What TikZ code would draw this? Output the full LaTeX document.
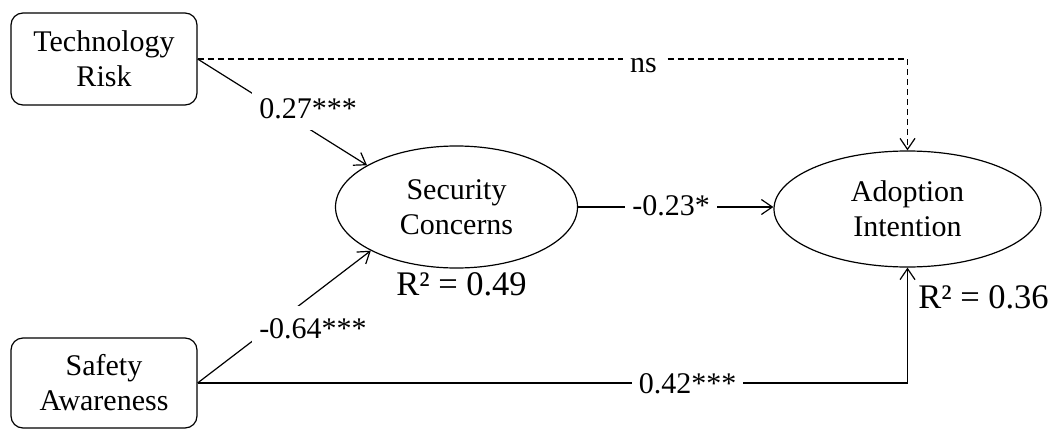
\documentclass[tikz,border=0pt]{standalone}
\usepackage{fontspec}
\setmainfont{Liberation Serif}
\usetikzlibrary{arrows.meta,shapes.geometric}
\begin{document}
\begin{tikzpicture}[x=1pt,y=-1pt,
  line width=1.2pt,
  every node/.style={font=\fontsize{30}{35}\selectfont},
  box/.style={draw, rounded corners=12pt, minimum width=186pt, minimum height=92pt, align=center, inner sep=0pt},
  latent/.style={draw, ellipse, inner sep=0pt, align=center},
  arr/.style={-{Straight Barb[length=11pt,width=15pt]}},
  coef/.style={fill=white, inner xsep=7pt, inner ysep=5pt, text height=27pt, text depth=7pt, anchor=base},
  rsq/.style={font=\fontsize{34.5}{40}\selectfont, anchor=base, inner sep=0pt},
  nsline/.style={dash pattern=on 6pt off 4pt}
]
\useasboundingbox (0,0) rectangle (1051,428);

\node[box] (TR) at (104,59) {Technology\\Risk};
\node[box, minimum height=90pt] (SA) at (104,383) {Safety\\Awareness};
\node[latent, minimum width=242pt, minimum height=122pt] (SC) at (456.5,207) {Security\\Concerns};
\node[latent, minimum width=267pt, minimum height=116pt] (AI) at (907.5,209) {Adoption\\Intention};

% connectors
\draw[arr, nsline] (TR.east) -| (AI.north);
\draw[arr] (TR.east) -- (SC.155);
\draw[arr] (SA.east) -- (SC.207);
\draw[arr] (SC.east) -- (SC.east -| AI.west);
\draw[arr] (SA.east) -| (AI.south);

% coefficient labels
\node[coef] (lns) at (643.5,73) {ns};
\node[coef] (l27) at (308,118) {0.27***};
\node[coef] (l64) at (313,338) {-0.64***};
\node[coef] (l23) at (671,215) {-0.23*};
\node[coef] (l42) at (687.5,393) {0.42***};

% R-squared
\node[rsq] (r49) at (461.5,295) {R² = 0.49};
\node[rsq] (r36) at (983.5,308) {R² = 0.36};
\end{tikzpicture}
\end{document}
